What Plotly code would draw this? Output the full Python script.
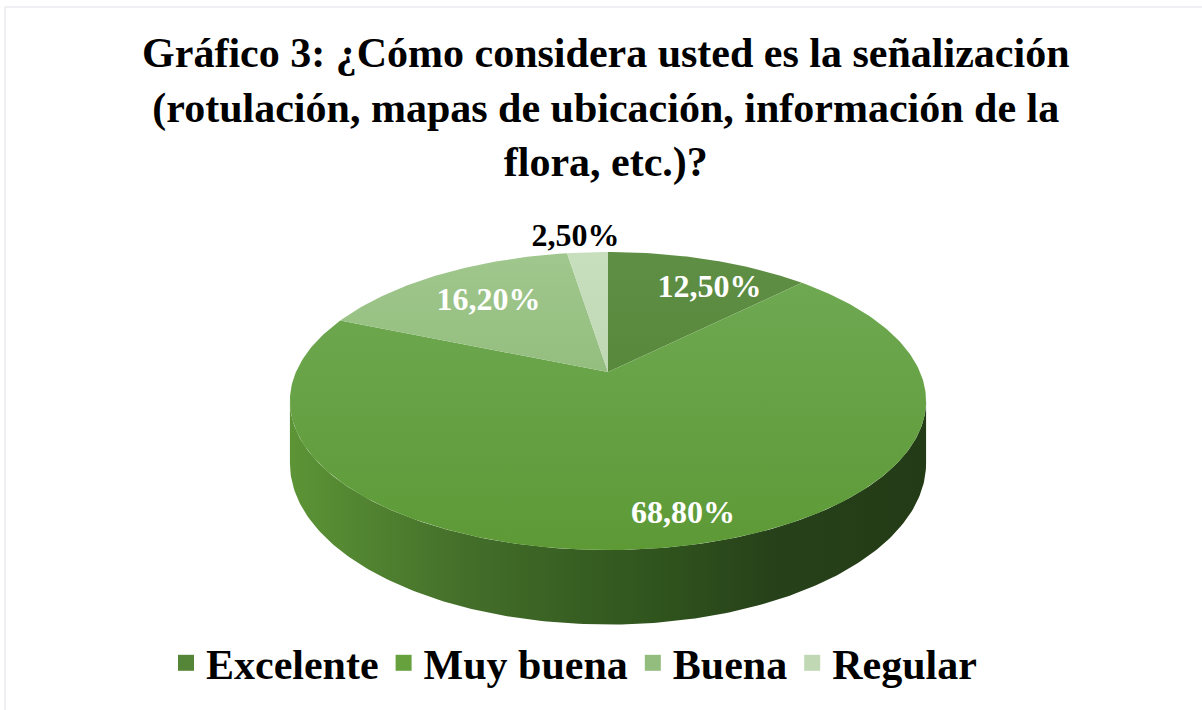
import numpy as np
import plotly.graph_objects as go

# datos del gráfico
categorias = ['Excelente', 'Muy buena', 'Buena', 'Regular']
porcentajes = [12.5, 68.8, 16.2, 2.5]

# colores (arriba -> abajo en la cara superior)
colores_cara = [('#5f8f45', '#4b7e2c'), ('#70aa55', '#5d9a36'),
                ('#a0c78d', '#82b06a'), ('#c8dfbe', '#b3cea5')]
colores_leyenda = ['#558637', '#66a13e', '#93bd7e', '#c0d8b4']
escala_lateral = [[0, '#5c9436'], [0.27, '#446f2a'], [0.46, '#375e22'],
                  [0.6, '#2f521d'], [0.75, '#27421a'], [1, '#233b16']]

W, H = 1202, 710
CX, CY = 608, 372      # vértice del pastel
A, B = 312, 143.4      # semiejes
K = 0.1946             # perspectiva
PROF = 60              # grosor
FUENTE = 'Liberation Serif, Times New Roman, serif'


def proyectar(r, th, caida=0.0):
    u = r * np.sin(th)
    v = r * np.cos(th)
    w = 1 + K * v
    return CX + A * u / w, CY - B * v / w + caida / w


fig = go.Figure()

total = sum(porcentajes)
cortes = np.concatenate([[0], np.cumsum(porcentajes)]) / total * 2 * np.pi

# pared lateral visible (frente)
sil_der = np.arccos(-K)
sil_izq = 2 * np.pi - sil_der
for i, cat in enumerate(categorias):
    a0 = max(cortes[i], sil_der)
    a1 = min(cortes[i + 1], sil_izq)
    if a1 <= a0:
        continue
    th = np.linspace(a0, a1, 200)
    xs, ys = proyectar(1, th)
    xb, yb = proyectar(1, th[::-1], PROF)
    fig.add_trace(go.Scatter(
        x=np.concatenate([xs, xb, xs[:1]]),
        y=np.concatenate([ys, yb, ys[:1]]),
        fill='toself', mode='lines', line=dict(width=0),
        fillgradient=dict(type='horizontal', colorscale=escala_lateral,
                          start=CX - A * 1.02, stop=CX + A * 1.02),
        hoverinfo='skip', showlegend=False
    ))

# cara superior
for i, cat in enumerate(categorias):
    n = max(int((cortes[i + 1] - cortes[i]) / (2 * np.pi) * 400), 8)
    th = np.linspace(cortes[i], cortes[i + 1], n)
    xs, ys = proyectar(1, th)
    c0, c1 = colores_cara[i]
    fig.add_trace(go.Scatter(
        x=np.concatenate([[CX], xs, [CX]]),
        y=np.concatenate([[CY], ys, [CY]]),
        fill='toself', mode='lines', line=dict(width=0),
        fillgradient=dict(type='vertical', colorscale=[[0, c0], [1, c1]],
                          start=CY - B / (1 + K), stop=CY + B / (1 - K)),
        name=cat, hoverinfo='name', showlegend=False
    ))

# etiquetas de porcentaje
for i, cat in enumerate(categorias):
    medio = (cortes[i] + cortes[i + 1]) / 2
    texto = '<b>' + f'{porcentajes[i]:.2f}%'.replace('.', ',') + '</b>'
    if porcentajes[i] < 5:
        x, y = proyectar(1.12, medio)
        x, y = x - 10, y - 2
        color = 'black'
    else:
        x, y = proyectar(0.8, medio)
        x, y = x + 18, y + 10
        color = 'white'
    fig.add_trace(go.Scatter(
        x=[x], y=[y], mode='text', text=[texto],
        textfont=dict(family=FUENTE, size=32, color=color),
        hoverinfo='skip', showlegend=False
    ))

# leyenda
for cat, col in zip(categorias, colores_leyenda):
    fig.add_trace(go.Scatter(
        x=[None], y=[None], mode='markers', name=cat,
        marker=dict(symbol='square', size=16, color=col)
    ))

fig.update_layout(
    title=dict(
        text='<b>Gráfico 3: ¿Cómo considera usted es la señalización<br>'
             '(rotulación, mapas de ubicación, información de la<br>'
             'flora, etc.)?</b>',
        x=0.504, xanchor='center', y=1 - 67 / H, yanchor='middle',
        font=dict(family=FUENTE, size=42, color='black')
    ),
    legend=dict(orientation='h', x=574 / W, xanchor='center',
                y=1 - 663 / H, yanchor='middle',
                font=dict(family=FUENTE, size=42, color='black',
                          weight='bold'),
                itemclick=False, itemdoubleclick=False),
    xaxis=dict(range=[0, W], visible=False, fixedrange=True),
    yaxis=dict(range=[H, 0], visible=False, fixedrange=True),
    shapes=[dict(type='rect', xref='paper', yref='paper',
                 x0=5 / W, x1=1.02, y0=-0.02, y1=1 - 7 / H,
                 line=dict(color='#dde1e6', width=1))],
    width=W, height=H,
    margin=dict(l=0, r=0, t=0, b=0),
    plot_bgcolor='white', paper_bgcolor='white',
    showlegend=True
)

fig.write_html('out.html', config={'displayModeBar': False},
               post_script="document.body.style.margin='0';")
